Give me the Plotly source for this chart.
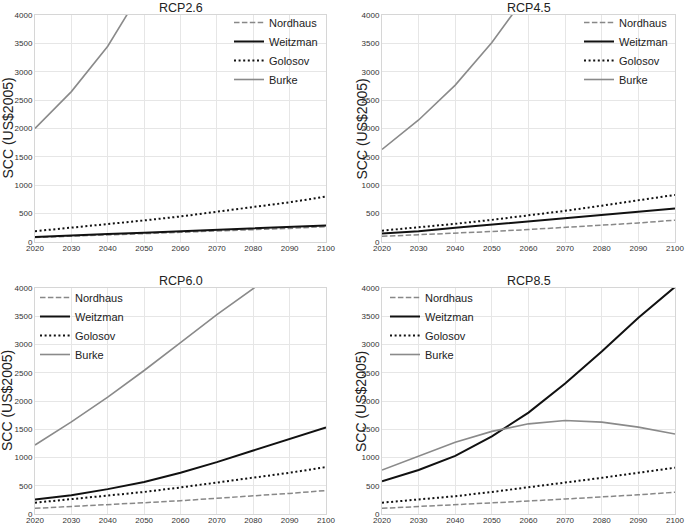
import plotly.graph_objects as go

years = [2020, 2030, 2040, 2050, 2060, 2070, 2080, 2090, 2100]
scenarios = ["RCP2.6", "RCP4.5", "RCP6.0", "RCP8.5"]
models = ["Nordhaus", "Weitzman", "Golosov", "Burke"]
y_title = "SCC (US$2005)"

# RCP2.6
nordhaus_26 = [80, 100, 120, 145, 170, 195, 215, 240, 270]
weitzman_26 = [90, 110, 140, 165, 190, 215, 240, 265, 290]
golosov_26 = [190, 250, 310, 380, 450, 530, 610, 700, 800]
burke_26 = [2000, 2650, 3450, 4500, 5800, 7400, 9400, 11800, 14700]

# RCP4.5
nordhaus_45 = [100, 125, 155, 185, 220, 255, 295, 335, 385]
weitzman_45 = [150, 190, 250, 305, 365, 420, 480, 535, 590]
golosov_45 = [200, 255, 320, 390, 465, 550, 640, 730, 830]
burke_45 = [1630, 2150, 2765, 3515, 4400, 5450, 6700, 8100, 9800]

# RCP6.0
nordhaus_60 = [100, 130, 165, 200, 235, 275, 320, 365, 415]
weitzman_60 = [255, 333, 440, 567, 731, 918, 1123, 1327, 1532]
golosov_60 = [200, 260, 320, 390, 470, 555, 640, 730, 830]
burke_60 = [1222, 1630, 2070, 2540, 3035, 3530, 3990, 4480, 4980]

# RCP8.5
nordhaus_85 = [100, 130, 160, 195, 230, 265, 300, 340, 385]
weitzman_85 = [579, 778, 1029, 1374, 1795, 2310, 2877, 3474, 4020]
golosov_85 = [200, 255, 315, 390, 470, 555, 640, 730, 820]
burke_85 = [778, 1023, 1269, 1462, 1596, 1655, 1626, 1538, 1415]

data = {
    "RCP2.6": [nordhaus_26, weitzman_26, golosov_26, burke_26],
    "RCP4.5": [nordhaus_45, weitzman_45, golosov_45, burke_45],
    "RCP6.0": [nordhaus_60, weitzman_60, golosov_60, burke_60],
    "RCP8.5": [nordhaus_85, weitzman_85, golosov_85, burke_85],
}

x_ticks = [2020, 2030, 2040, 2050, 2060, 2070, 2080, 2090, 2100]
y_ticks = [0, 500, 1000, 1500, 2000, 2500, 3000, 3500, 4000]

styles = {
    "Nordhaus": dict(color="#888888", width=1.5, dash="5.5px,2.4px"),
    "Weitzman": dict(color="#111111", width=2.0, dash="solid"),
    "Golosov": dict(color="#111111", width=2.0, dash="2px,2.6px"),
    "Burke": dict(color="#8a8a8a", width=1.6, dash="solid"),
}

W, H = 685, 525
xdoms = [(35 / W, 326 / W), (382 / W, 675 / W)]
ydoms = [(1 - 242 / H, 1 - 15 / H), (1 - 514 / H, 1 - 288 / H)]
ytitle_x = [7 / W, 361 / W]

fig = go.Figure()
annotations = []
legend_pos = [
    (229 / W, 1 - 8 / H),
    (579 / W, 1 - 8 / H),
    (35 / W, 1 - 283 / H),
    (385 / W, 1 - 283 / H),
]

for i, sc in enumerate(scenarios):
    r, c = divmod(i, 2)
    n = i + 1
    xa = "x" if n == 1 else f"x{n}"
    ya = "y" if n == 1 else f"y{n}"
    lg = "legend" if n == 1 else f"legend{n}"
    for m, vals in zip(models, data[sc]):
        fig.add_trace(go.Scatter(
            x=years, y=vals, name=m, mode="lines",
            line=styles[m], xaxis=xa, yaxis=ya, legend=lg,
            showlegend=True, hoverinfo="skip",
        ))
    axkw = dict(showgrid=True, gridcolor="#e6e6e6", gridwidth=1,
                showline=True, linecolor="#d6d6d6", linewidth=1, mirror=True,
                zeroline=False, ticks="", ticklen=0, automargin=False,
                ticklabeloverflow="allow",
                tickfont=dict(size=8, color="#333333"))
    fig.layout[f"xaxis{'' if n == 1 else n}"] = dict(
        domain=list(xdoms[c]), anchor=ya, range=[2020, 2100],
        tickvals=x_ticks, ticktext=[str(t) for t in x_ticks],
        ticklabelstandoff=-2, **axkw)
    fig.layout[f"yaxis{'' if n == 1 else n}"] = dict(
        domain=list(ydoms[r]), anchor=xa, range=[0, 4000],
        tickvals=y_ticks, ticktext=[str(t) for t in y_ticks], **axkw)
    lx, ly = legend_pos[i]
    fig.layout[lg] = dict(
        x=lx, y=ly, xanchor="left", yanchor="top", bgcolor="rgba(0,0,0,0)",
        borderwidth=0, font=dict(size=11, color="#222222"),
        tracegroupgap=0, itemwidth=30,
    )
    annotations.append(dict(
        text=sc, x=(xdoms[c][0] + xdoms[c][1]) / 2, y=ydoms[r][1],
        xref="paper", yref="paper", xanchor="center", yanchor="bottom",
        yshift=-2, showarrow=False, font=dict(size=12.5, color="#222222"),
    ))
    annotations.append(dict(
        text=y_title, x=ytitle_x[c], y=(ydoms[r][0] + ydoms[r][1]) / 2,
        xref="paper", yref="paper", xanchor="center", yanchor="middle",
        textangle=-90, showarrow=False, font=dict(size=14, color="#222222"),
    ))

fig.update_layout(
    template="none",
    width=W, height=H, margin=dict(l=0, r=0, t=0, b=0, autoexpand=False),
    paper_bgcolor="white", plot_bgcolor="white",
    font=dict(family="Liberation Sans, Arial, sans-serif"),
    annotations=annotations,
    hovermode=False,
)

fig.write_html("out.html", config={"displayModeBar": False},
               post_script="document.body.style.margin='0';")
